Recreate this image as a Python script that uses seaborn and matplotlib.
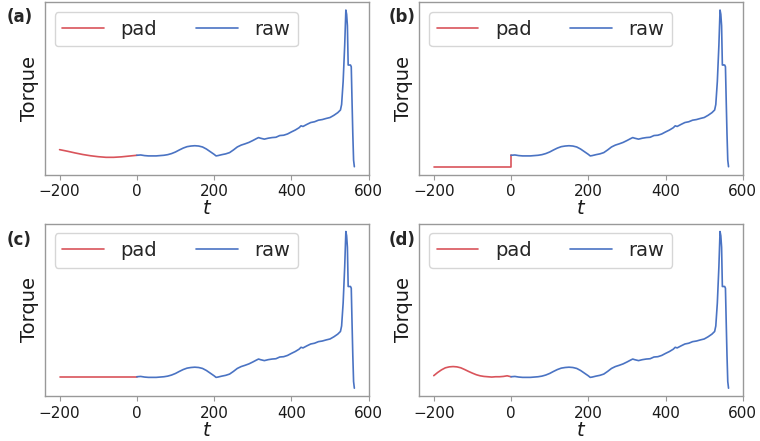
import numpy as np
import pandas as pd
import matplotlib
matplotlib.use("Agg")
import matplotlib.pyplot as plt
import seaborn as sns

# Datos (torque en unidades arbitrarias, 0-100)
raw_t = [0, 10, 20, 30, 40, 50, 60, 70, 80, 90, 100, 110, 120, 130, 140, 150, 160, 170, 180, 190,
         200, 205, 210, 220, 230, 240, 250, 260, 270, 280, 290, 300, 310, 315, 320, 330, 340, 350,
         360, 370, 380, 390, 400, 410, 420, 425, 430, 440, 450, 460, 470, 480, 490, 500, 510, 520,
         527, 530, 534, 538, 541, 543, 545, 547, 550, 553, 555, 557, 559, 561, 563]
raw_v = [7.3, 7.5, 7.1, 6.9, 6.9, 6.9, 7.1, 7.3, 7.7, 8.4, 9.4, 10.7, 11.9, 12.8, 13.2, 13.4, 13.2, 12.6, 11.3, 9.6,
         7.9, 6.9, 7.1, 7.7, 8.2, 9.0, 10.7, 12.6, 13.8, 14.6, 15.5, 16.7, 18.0, 18.6, 18.2, 17.6, 18.2, 18.6,
         18.8, 19.9, 20.1, 20.9, 22.2, 23.4, 24.9, 26.1, 25.7, 27.0, 28.2, 28.7, 29.7, 30.1, 30.8, 31.4, 32.8, 34.5,
         36.2, 39.7, 54.4, 77.4, 100.0, 97.3, 90.0, 64.9, 64.9, 64.9, 63.8, 41.8, 20.9, 4.2, 0.0]

# (a) extrapolacion suave
pad_a_t = [-200, -180, -160, -140, -120, -100, -80, -60, -40, -20, 0]
pad_a_v = [10.9, 9.9, 8.8, 7.8, 7.0, 6.4, 6.0, 6.0, 6.3, 6.8, 7.3]
# (b) relleno con ceros
pad_b_t = [-200, 0, 0]
pad_b_v = [0.0, 0.0, 7.3]
# (c) relleno con el borde
pad_c_t = [-200, 0]
pad_c_v = [7.3, 7.3]
# (d) reflejo
pad_d_t = [-200, -190, -180, -170, -160, -150, -140, -130, -120, -110, -100, -90, -80, -70, -60,
           -50, -40, -30, -20, -10, 0]
pad_d_v = [8.0, 10.0, 11.7, 13.0, 13.6, 13.8, 13.6, 13.0, 11.9, 10.7, 9.6, 8.6, 7.9, 7.5, 7.3,
           7.1, 7.3, 7.3, 7.5, 7.9, 7.3]

paneles = ["(a)", "(b)", "(c)", "(d)"]
pads = [(pad_a_t, pad_a_v), (pad_b_t, pad_b_v), (pad_c_t, pad_c_v), (pad_d_t, pad_d_v)]

sns.set_style("white")
plt.rcParams['font.family'] = ['DejaVu Sans']

color_pad = "#d9545b"
color_raw = "#4a73c3"

fig, axes = plt.subplots(2, 2, figsize=(7.6, 4.41), dpi=100)
fig.subplots_adjust(left=0.059, right=0.978, top=0.995, bottom=0.102, hspace=0.285, wspace=0.154)

df_raw = pd.DataFrame({"t": raw_t, "Torque": raw_v})

for ax, nombre, (pt, pv) in zip(axes.flat, paneles, pads):
    df_pad = pd.DataFrame({"t": pt, "Torque": pv})
    sns.lineplot(data=df_pad, x="t", y="Torque", ax=ax, color=color_pad, label="pad",
                 estimator=None, sort=False, linewidth=1.2)
    sns.lineplot(data=df_raw, x="t", y="Torque", ax=ax, color=color_raw, label="raw",
                 estimator=None, sort=False, linewidth=1.2)
    ax.set_yticks([])
    ax.set_xticks([-200, 0, 200, 400, 600])
    ax.tick_params(axis="x", labelsize=11, length=3.5, color="0.6", labelcolor="0.1", bottom=True)
    ax.set_xlabel(r"$t$", fontsize=14, labelpad=0, color="0.1")
    ax.set_ylabel("Torque", fontsize=14, color="0.1")
    for s in ax.spines.values():
        s.set_color("0.6")
        s.set_linewidth(1.0)
    ax.legend(loc="upper left", ncol=2, fontsize=14, handlelength=2.15, handletextpad=0.85,
              columnspacing=2.0, borderaxespad=0.5)

# etiquetas de panel
pos = [(7, 17), (389, 17), (7, 240), (389, 240)]
for nombre, (px, py) in zip(paneles, pos):
    fig.text(px / 760, 1 - py / 441, nombre, fontsize=12, fontweight="bold", va="center", ha="left")

plt.savefig("out.png", dpi=100)
